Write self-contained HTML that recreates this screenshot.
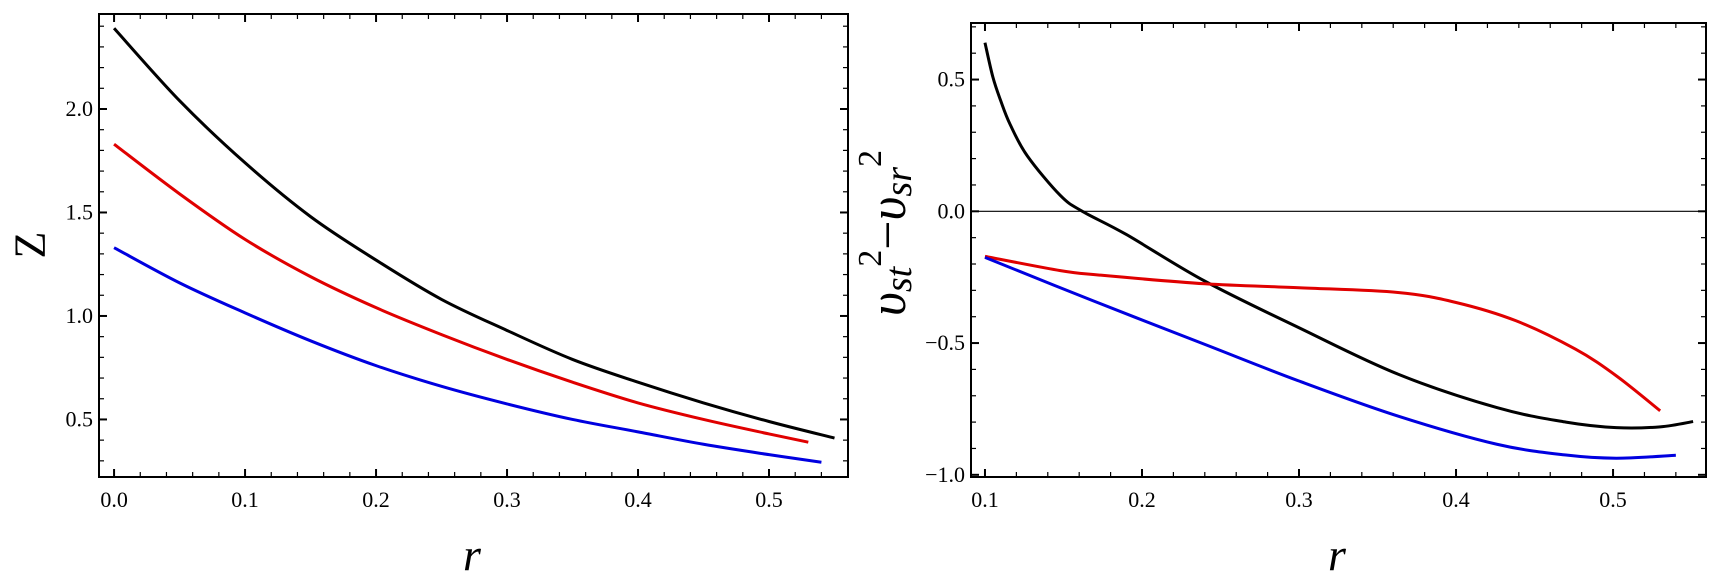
<!DOCTYPE html>
<html><head><meta charset="utf-8"><style>
html,body{margin:0;padding:0;background:#fff;}
svg{display:block;font-family:"Liberation Serif","DejaVu Serif",serif;}
</style></head><body>
<svg id="chart" width="1723" height="581" viewBox="0 0 1723 581">
<g id="left"></g>
<g id="right"></g>
<text x="30" y="245" font-size="44" text-anchor="middle" transform="rotate(-90 30 245)" dominant-baseline="central">Z</text>
<text x="472" y="570" font-size="46" font-style="italic" text-anchor="middle">r</text>
<text x="1337" y="570" font-size="46" font-style="italic" text-anchor="middle">r</text>
<text x="905" y="233" font-size="52" text-anchor="middle" transform="rotate(-90 905 233)"><tspan font-style="italic">υ</tspan><tspan font-style="italic" font-size="38" dy="6">st</tspan><tspan font-size="34" dy="-30">2</tspan><tspan dy="24">−</tspan><tspan font-style="italic">υ</tspan><tspan font-style="italic" font-size="38" dy="6">sr</tspan><tspan font-size="34" dy="-30">2</tspan></text>
</svg>
<script>
// Left panel data
const leftBlackR = [0,0.05,0.1,0.15,0.2,0.25,0.3,0.35,0.4,0.45,0.5,0.55];
const leftBlackZ = [2.39,2.04,1.74,1.48,1.27,1.08,0.93,0.79,0.68,0.58,0.49,0.41];
const leftRedR = [0,0.05,0.1,0.15,0.2,0.25,0.3,0.35,0.4,0.45,0.5,0.53];
const leftRedZ = [1.83,1.59,1.37,1.19,1.04,0.91,0.79,0.68,0.58,0.50,0.43,0.39];
const leftBlueR = [0,0.05,0.1,0.15,0.2,0.25,0.3,0.35,0.4,0.45,0.5,0.54];
const leftBlueZ = [1.33,1.16,1.015,0.88,0.76,0.66,0.575,0.50,0.44,0.38,0.33,0.293];
const leftXTicks = ["0.0","0.1","0.2","0.3","0.4","0.5"];
const leftYTicks = ["0.5","1.0","1.5","2.0"];
// Right panel data
const rightBlackR = [0.1,0.105,0.11,0.116,0.127,0.148,0.162,0.19,0.24,0.3,0.363,0.426,0.47,0.502,0.53,0.551];
const rightBlackV = [0.64,0.51,0.42,0.33,0.21,0.06,0,-0.088,-0.265,-0.442,-0.618,-0.745,-0.80,-0.821,-0.818,-0.798];
const rightRedR = [0.1,0.148,0.173,0.24,0.30,0.363,0.40,0.438,0.476,0.502,0.53];
const rightRedV = [-0.171,-0.225,-0.242,-0.275,-0.29,-0.308,-0.346,-0.415,-0.523,-0.624,-0.757];
const rightBlueR = [0.1,0.169,0.24,0.30,0.363,0.426,0.47,0.502,0.54];
const rightBlueV = [-0.175,-0.34,-0.505,-0.644,-0.777,-0.884,-0.925,-0.937,-0.926];
const rightXTicks = ["0.1","0.2","0.3","0.4","0.5"];
const rightYTicks = ["-1.0","-0.5","0.0","0.5"];

const NS = "http://www.w3.org/2000/svg";
function mk(tag, attrs, parent){const e=document.createElementNS(NS,tag);for(const k in attrs)e.setAttribute(k,attrs[k]);parent.appendChild(e);return e;}
function smooth(pts){
  let d="M"+pts[0][0].toFixed(2)+","+pts[0][1].toFixed(2);
  for(let i=0;i<pts.length-1;i++){
    const p0=pts[i-1]||pts[i],p1=pts[i],p2=pts[i+1],p3=pts[i+2]||p2;
    const c1=[p1[0]+(p2[0]-p0[0])/6,p1[1]+(p2[1]-p0[1])/6];
    const c2=[p2[0]-(p3[0]-p1[0])/6,p2[1]-(p3[1]-p1[1])/6];
    d+=" C"+c1[0].toFixed(2)+","+c1[1].toFixed(2)+" "+c2[0].toFixed(2)+","+c2[1].toFixed(2)+" "+p2[0].toFixed(2)+","+p2[1].toFixed(2);
  }
  return d;
}
function panel(g, box, xd, yd, xMajor, xMinor, yMajor, yMinor, xLabels, yLabels, series, zeroLine){
  const sx=v=>box.l+(v-xd[0])/(xd[1]-xd[0])*(box.r-box.l);
  const sy=v=>box.b-(v-yd[0])/(yd[1]-yd[0])*(box.b-box.t);
  const frame=mk("rect",{x:box.l,y:box.t,width:box.r-box.l,height:box.b-box.t,fill:"none",stroke:"#000","stroke-width":2},g);
  
  
  const eps=1e-9;
  for(let v=Math.ceil((xd[0]-eps)/xMinor)*xMinor; v<=xd[1]+eps; v+=xMinor){
    const isMaj=Math.abs(v/xMajor-Math.round(v/xMajor))<1e-6; const L=isMaj?8:5; const x=sx(v);
    const t1=mk("line",{x1:x,y1:box.b,x2:x,y2:box.b-L,stroke:"#000","stroke-width":isMaj?2:1.2},g);
    
    
    const t2=mk("line",{x1:x,y1:box.t,x2:x,y2:box.t+L,stroke:"#000","stroke-width":isMaj?2:1.2},g);
    
    
  }
  for(let v=Math.ceil((yd[0]-eps)/yMinor)*yMinor; v<=yd[1]+eps; v+=yMinor){
    const isMaj=Math.abs(v/yMajor-Math.round(v/yMajor))<1e-6; const L=isMaj?8:5; const y=sy(v);
    const t1=mk("line",{x1:box.l,y1:y,x2:box.l+L,y2:y,stroke:"#000","stroke-width":isMaj?2:1.2},g);
    
    
    const t2=mk("line",{x1:box.r,y1:y,x2:box.r-L,y2:y,stroke:"#000","stroke-width":isMaj?2:1.2},g);
    
    
  }
  xLabels.forEach(s=>{
    const t=mk("text",{x:sx(parseFloat(s)),y:box.b+30,"font-size":22,"text-anchor":"middle"},g);
    t.textContent=s;
    
    
  });
  yLabels.forEach(s=>{
    const t=mk("text",{x:box.l-6,y:sy(parseFloat(s))+7,"font-size":22,"text-anchor":"end"},g);
    t.textContent=s.replace("-","−");
    
    
  });
  if(zeroLine){
    const z=mk("line",{x1:box.l,y1:sy(0),x2:box.r,y2:sy(0),stroke:"#000","stroke-width":1.2},g);
    
    
  }
  series.forEach(s=>{
    const pts=s.x.map((xv,i)=>[sx(xv),sy(s.y[i])]);
    const p=mk("path",{d:smooth(pts),fill:"none",stroke:s.c,"stroke-width":3,"stroke-linejoin":"round"},g);
    
    
  });
}
panel(document.getElementById("left"),{l:99,r:848,t:14,b:477},[-0.0115,0.5603],[0.2219,2.459],0.1,0.02,0.5,0.1,leftXTicks,leftYTicks,[
  {x:leftBlackR,y:leftBlackZ,c:"#000",n:"curve-black"},
  {x:leftRedR,y:leftRedZ,c:"#e00000",n:"curve-red"},
  {x:leftBlueR,y:leftBlueZ,c:"#0000e0",n:"curve-blue"}],false);
panel(document.getElementById("right"),{l:971,r:1706,t:23,b:477},[0.0911,0.5592],[-1.0083,0.7146],0.1,0.02,0.5,0.1,rightXTicks,rightYTicks,[
  {x:rightBlackR,y:rightBlackV,c:"#000",n:"curve-black"},
  {x:rightRedR,y:rightRedV,c:"#e00000",n:"curve-red"},
  {x:rightBlueR,y:rightBlueV,c:"#0000e0",n:"curve-blue"}],true);
</script>
</body></html>
